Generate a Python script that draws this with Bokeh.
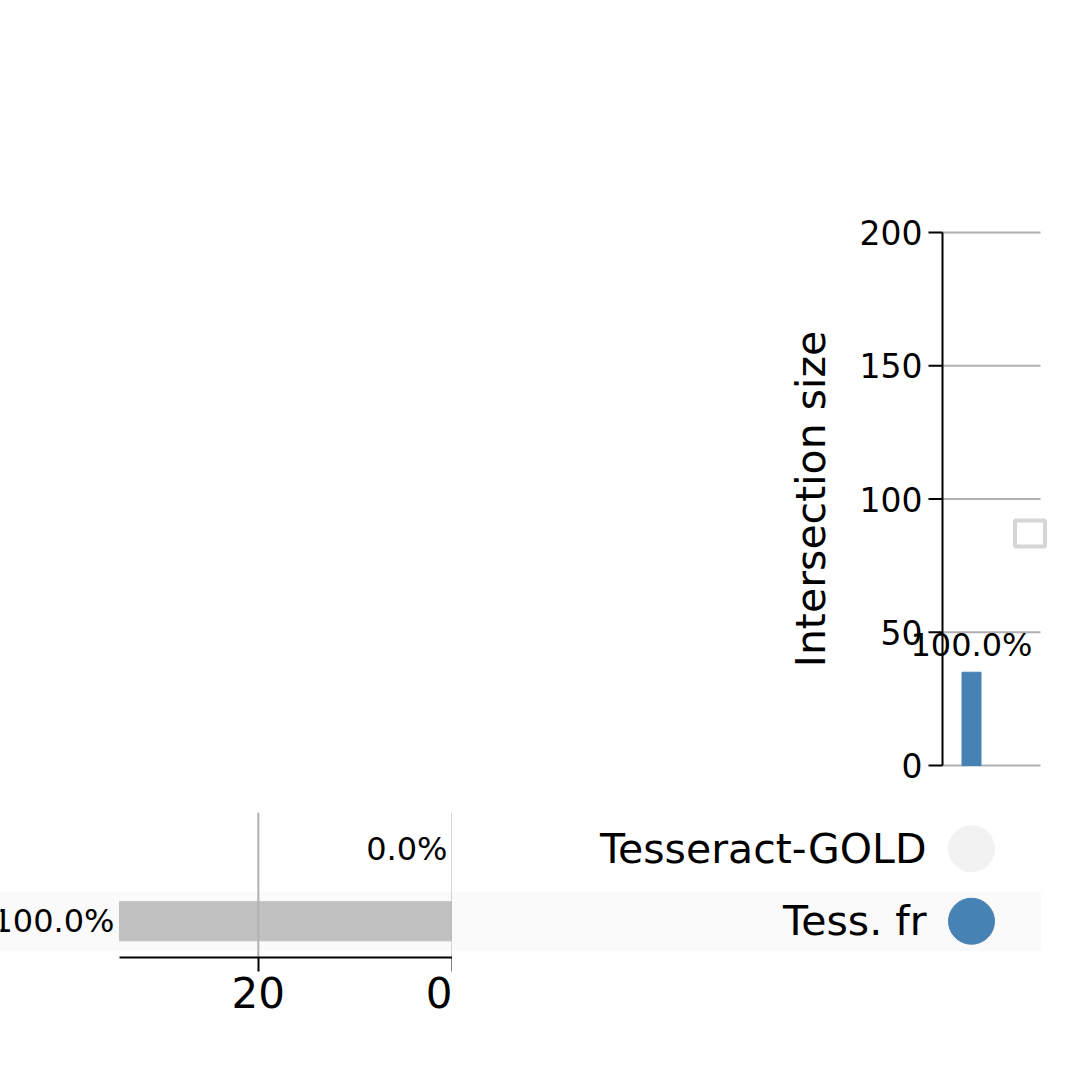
from math import pi
from bokeh.plotting import figure
from bokeh.layouts import column, row
from bokeh.models import Range1d, FixedTicker
from bokeh.embed import file_html
from bokeh.resources import INLINE
from bokeh.core.properties import value

sets = ["Tess. fr", "Tesseract-GOLD"]
set_sizes = [35, 0]
set_pct = ["100.0%", "0.0%"]
inter_sizes = [35]
inter_pct = ["100.0%"]
membership = [[True, False]]   # per intersection: member of each set
y_ticks = [0, 50, 100, 150, 200]
x_ticks = [20, 0]

FONT = value("DejaVu Sans")
GREY = "#b0b0b0"
BLUE = "#4682b4"
K = 40.0          # px per intersection unit
PY = 533 / 200.0  # px per intersection-size unit
AX = -0.725       # x of the intersection y axis
XEND = 1.725      # right end of the plot area

# intersection size bars (top)
top = figure(width=1058, height=780, x_range=Range1d(-4.775, 1.975),
             y_range=Range1d(-15 / PY, 200 + 20 / PY),
             output_backend="svg", toolbar_location=None, x_axis_location=None, y_axis_location=None,
             min_border_left=780, min_border_right=8, min_border_top=212, min_border_bottom=0)
top.outline_line_color = None
top.grid.visible = False
top.segment(x0=AX, x1=XEND, y0=y_ticks, y1=y_ticks, line_color=GREY, line_width=2)
top.segment(x0=AX, x1=AX, y0=0, y1=200, line_color="black", line_width=2)
top.segment(x0=AX - 14 / K, x1=AX, y0=y_ticks, y1=y_ticks, line_color="black", line_width=2)
top.text(x=AX - 20 / K, y=y_ticks, text=[str(t) for t in y_ticks], text_align="right",
         text_baseline="middle", text_font=FONT, text_font_size="33px")
top.text(x=(810 - 971) / K, y=100, text=["Intersection size"], angle=pi / 2, text_align="center",
         text_baseline="middle", text_font=FONT, text_font_size="41px")
xs = list(range(len(inter_sizes)))
top.vbar(x=xs, top=inter_sizes, width=0.475, color=BLUE)
top.text(x=xs, y=[v + 3 for v in inter_sizes], text=inter_pct, text_align="center",
         text_baseline="bottom", text_font=FONT, text_font_size="32px")
top.rect(x=[1.4625], y=[(765 - 533) / PY], width=0.75, height=26 / PY, fill_color="white",
         line_color="#d6d6d6", line_width=4)

# set size bars (bottom left)
SK = 333 / 34.3
SMAX = 34.3
ss = figure(width=452, height=277, x_range=Range1d(SMAX + 119 / SK, 0), y_range=Range1d(0, 2),
            output_backend="svg", toolbar_location=None, y_axis_location=None,
            min_border_left=0, min_border_right=0, min_border_top=32, min_border_bottom=100)
ss.outline_line_color = None
ss.grid.visible = False
ss.quad(left=SMAX + 119 / SK, right=0, bottom=0.1, top=0.9, color="#fafafa")
ys = [0.5 + i for i in range(len(sets))]
ss.hbar(y=ys, right=[min(v, SMAX) for v in set_sizes], left=0, height=0.54, color="#c0c0c0")
ss.segment(x0=x_ticks, x1=x_ticks, y0=0, y1=2, line_color=GREY, line_width=2)
ss.text(x=[min(v, SMAX) for v in set_sizes], y=ys, text=set_pct, x_offset=-5, text_align="right",
        text_baseline="middle", text_font=FONT, text_font_size="32px")
ss.xaxis.bounds = (0, SMAX)
ss.xaxis.ticker = FixedTicker(ticks=x_ticks)
ss.xaxis.major_label_text_font = "DejaVu Sans"
ss.xaxis.major_label_text_font_size = "42px"
ss.xaxis.major_label_text_color = "black"
ss.xaxis.axis_line_width = 2
ss.xaxis.major_tick_line_width = 2
ss.xaxis.major_tick_out = 14
ss.xaxis.major_tick_in = 0
ss.xaxis.minor_tick_line_color = None

# matrix (bottom right)
mx = figure(width=606, height=277, x_range=Range1d(-12.975, 1.975), y_range=Range1d(0, 2),
            output_backend="svg", toolbar_location=None, x_axis_location=None, y_axis_location=None,
            min_border_left=0, min_border_right=8, min_border_top=32, min_border_bottom=100)
mx.outline_line_color = None
mx.grid.visible = False
mx.quad(left=-12.975, right=XEND, bottom=0.1, top=0.9, color="#fafafa")
mx.text(x=[-1.125] * len(sets), y=ys, text=sets, text_align="right", text_baseline="middle",
        text_font=FONT, text_font_size="41px")
for i, mem in enumerate(membership):
    cols = [BLUE if m else "#f2f2f2" for m in mem]
    mx.scatter(x=[i] * len(sets), y=ys, size=46, color=cols)

p = column(top, row(ss, mx))
open("out.html", "w").write(file_html(p, INLINE))
